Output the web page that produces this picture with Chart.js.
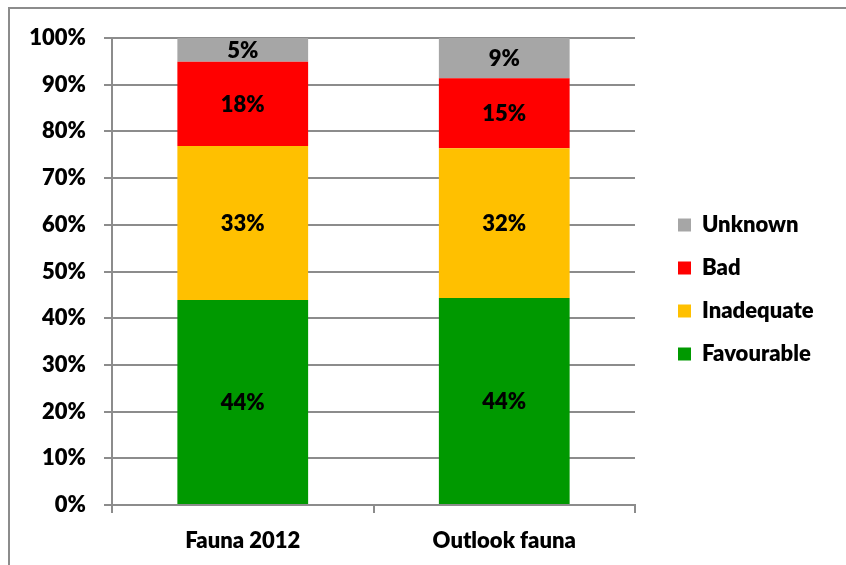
<!DOCTYPE html>
<html>
<head>
<meta charset="utf-8">
<script src="https://cdn.jsdelivr.net/npm/chart.js@4.4.1/dist/chart.umd.min.js"></script>
<style>
  html, body { margin: 0; padding: 0; background: #fff; }
  #wrap { position: relative; width: 846px; height: 565px; overflow: hidden; }
  #frame { position: absolute; left: 8px; top: 7px; width: 900px; height: 700px; border: 2px solid #8c8c8c; box-sizing: border-box; }
  canvas { position: absolute; left: 0; top: 0; }
</style>
</head>
<body>
<div id="wrap">
  <div id="frame"></div>
  <canvas id="chart" width="846" height="565"></canvas>
</div>
<script>
var categories = ['Fauna 2012', 'Outlook fauna'];
var favourable = [43.9, 44.3];
var inadequate = [33.0, 32.1];
var bad = [18.0, 15.0];
var unknown = [5.1, 8.6];
var yTicks = [0, 10, 20, 30, 40, 50, 60, 70, 80, 90, 100];

var fontFamily = 'Lato, "Open Sans", sans-serif';
var fontSize = 22;
var fontWeight = 800;

// labels in the middle of each segment
const segmentLabels = {
  id: 'segmentLabels',
  afterDatasetsDraw(chart) {
    const ctx = chart.ctx;
    ctx.save();
    ctx.font = fontWeight + ' ' + fontSize + 'px ' + fontFamily;
    ctx.fillStyle = '#000';
    ctx.textAlign = 'center';
    ctx.textBaseline = 'middle';
    chart.data.datasets.forEach(function (ds, i) {
      chart.getDatasetMeta(i).data.forEach(function (bar, j) {
        const p = bar.getProps(['x', 'y', 'base'], true);
        ctx.fillText(Math.round(ds.data[j]) + '%', p.x, (p.y + p.base) / 2 + 1);
      });
    });
    ctx.restore();
  }
};

// fixed legend width, then move the items a bit right
const legendFix = {
  id: 'legendFix',
  beforeLayout(chart) {
    const l = chart.legend;
    if (!l._fixed) {
      const fit = l.fit;
      l.fit = function () { fit.call(this); this.width = 211; };
      l._fixed = true;
    }
  },
  afterLayout(chart) {
    const l = chart.legend;
    l.left += 22; l.right += 22;
    l.top -= 12; l.bottom -= 12;
  }
};

function draw() {
  var font = { family: fontFamily, size: fontSize, weight: fontWeight };
  new Chart(document.getElementById('chart'), {
    type: 'bar',
    data: {
      labels: categories,
      datasets: [
        { label: 'Favourable', data: favourable, backgroundColor: '#009900' },
        { label: 'Inadequate', data: inadequate, backgroundColor: '#FFC000' },
        { label: 'Bad', data: bad, backgroundColor: '#FF0000' },
        { label: 'Unknown', data: unknown, backgroundColor: '#A6A6A6' }
      ]
    },
    plugins: [segmentLabels, legendFix],
    options: {
      responsive: false,
      animation: false,
      layout: { padding: { top: 38, left: 12, bottom: 0, right: 0 } },
      datasets: { bar: { categoryPercentage: 1, barPercentage: 0.5 } },
      plugins: {
        legend: {
          position: 'right',
          reverse: true,
          labels: {
            boxWidth: 13,
            boxHeight: 13,
            padding: 21,
            color: '#000',
            font: font
          }
        },
        tooltip: { enabled: false }
      },
      scales: {
        x: {
          stacked: true,
          afterFit: function (axis) { axis.height = 60; },
          border: { color: '#8c8c8c', width: 2 },
          grid: { drawOnChartArea: false, color: '#8c8c8c', lineWidth: 2, tickLength: 8, offset: true },
          ticks: { color: '#000', padding: 15, font: font }
        },
        y: {
          stacked: true,
          min: 0,
          max: 100,
          afterBuildTicks: function (axis) {
            axis.ticks = yTicks.map(function (v) { return { value: v }; });
          },
          afterFit: function (axis) { axis.width = 100; },
          border: { color: '#8c8c8c', width: 2 },
          grid: { color: '#8c8c8c', lineWidth: 2, tickLength: 8 },
          ticks: {
            color: '#000',
            padding: 18,
            font: font,
            callback: function (v) { return v + '%'; }
          }
        }
      }
    }
  });
}

document.fonts.load(fontWeight + ' 22px Lato').then(draw, draw);
</script>
</body>
</html>
